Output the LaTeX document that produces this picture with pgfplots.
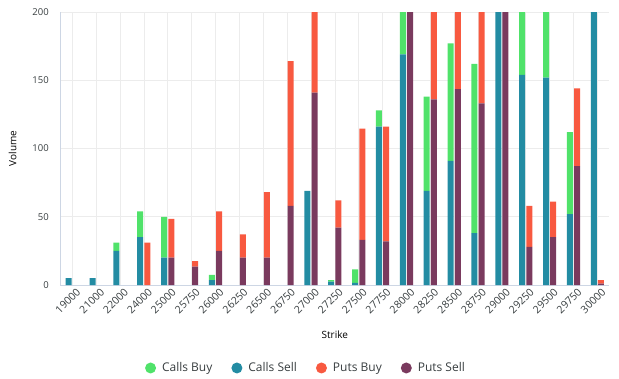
\documentclass[border=0pt]{standalone}
\usepackage{fontspec}
\setmainfont{Open Sans}
\usepackage{pgfplots}
\pgfplotsset{compat=1.18}
\definecolor{cbuy}{RGB}{80,226,106}
\definecolor{csell}{RGB}{35,140,163}
\definecolor{pbuy}{RGB}{248,89,64}
\definecolor{psell}{RGB}{122,58,94}
\definecolor{txt}{RGB}{55,61,63}
\definecolor{axl}{RGB}{205,214,228}
\pgfplotsset{
  common/.style={
    at={(0,0)}, anchor=south west,
    scale only axis, width=549pt, height=273pt,
    xmin=-0.5, xmax=22.5, ymin=0, ymax=200,
    ybar stacked, bar width=6pt,
    xtick={0,...,22}, ytick={0,50,100,150,200},
    major tick length=0pt,
    /pgf/number format/assume math mode=true,
  }
}
\begin{document}
\begin{tikzpicture}
\useasboundingbox (-60.3pt,-93pt) rectangle (558.7pt,285pt);
\begin{axis}[common,
  axis lines=left, axis line style={-, draw=axl, line width=0.8pt},
  grid=major, major grid style={draw=gray!15, line width=0.6pt},
  xticklabels={19000,21000,22000,24000,25000,25750,26000,26250,26500,26750,27000,27250,27500,27750,28000,28250,28500,28750,29000,29250,29500,29750,30000},
  x tick label style={rotate=45, anchor=north east, font=\fontsize{10.5}{12}\selectfont, text=txt, inner sep=1pt, yshift=-3pt, xshift=2pt},
  y tick label style={font=\fontsize{9.5}{11}\selectfont, text=txt, xshift=-8pt},
  xlabel={Strike}, ylabel={Volume},
  xlabel style={at={(axis description cs:0.5,-0.183)}, anchor=center, font=\fontsize{10}{12}\selectfont, text=black},
  ylabel style={at={(axis description cs:-0.087,0.5)}, anchor=center, rotate=0, font=\fontsize{10}{12}\selectfont, text=black},
  legend style={at={(0.4475,-0.304)}, anchor=center, draw=none, fill=none, legend columns=4,
    font=\fontsize{12}{14}\selectfont, text=txt,
    /tikz/every odd column/.append style={column sep=4pt},
    /tikz/every even column/.append style={column sep=17pt}},
  legend image code/.code={\fill[#1] (0pt,0pt) circle (5.5pt);},
]
\addlegendimage{fill=cbuy, draw=none}
\addlegendentry{Calls Buy}
\addlegendimage{fill=csell, draw=none}
\addlegendentry{Calls Sell}
\addlegendimage{fill=pbuy, draw=none}
\addlegendentry{Puts Buy}
\addlegendimage{fill=psell, draw=none}
\addlegendentry{Puts Sell}
% Calls Sell
\addplot[fill=csell, draw=none, bar shift=-3.6pt, forget plot] coordinates {
(0,5) (1,5) (2,25) (3,35) (4,20) (5,0) (6,3.5) (7,0) (8,0) (9,0) (10,69) (11,2.5)
(12,1.5) (13,116) (14,169) (15,69) (16,91) (17,38) (18,240) (19,154) (20,152) (21,52) (22,230)};
% Calls Buy
\addplot[fill=cbuy, draw=none, bar shift=-3.6pt, forget plot] coordinates {
(0,0) (1,0) (2,6) (3,19) (4,30) (5,0) (6,4) (7,0) (8,0) (9,0) (10,0) (11,1)
(12,10) (13,12) (14,60) (15,69) (16,86) (17,124) (18,20) (19,70) (20,60) (21,60) (22,0)};
\end{axis}
\begin{axis}[common, hide axis]
% Puts Sell
\addplot[fill=psell, draw=none, bar shift=3.6pt] coordinates {
(0,0) (1,0) (2,0) (3,0) (4,20) (5,13.5) (6,25) (7,20) (8,20) (9,58) (10,141) (11,42)
(12,33) (13,32) (14,230) (15,136) (16,143.5) (17,133) (18,260) (19,28) (20,35) (21,87) (22,1)};
% Puts Buy
\addplot[fill=pbuy, draw=none, bar shift=3.6pt] coordinates {
(0,0) (1,0) (2,0) (3,31) (4,28.5) (5,4) (6,29) (7,17) (8,48) (9,106) (10,90) (11,20)
(12,81.5) (13,84) (14,40) (15,90) (16,80) (17,90) (18,30) (19,30) (20,26) (21,57) (22,2.5)};
\end{axis}
\end{tikzpicture}
\end{document}
